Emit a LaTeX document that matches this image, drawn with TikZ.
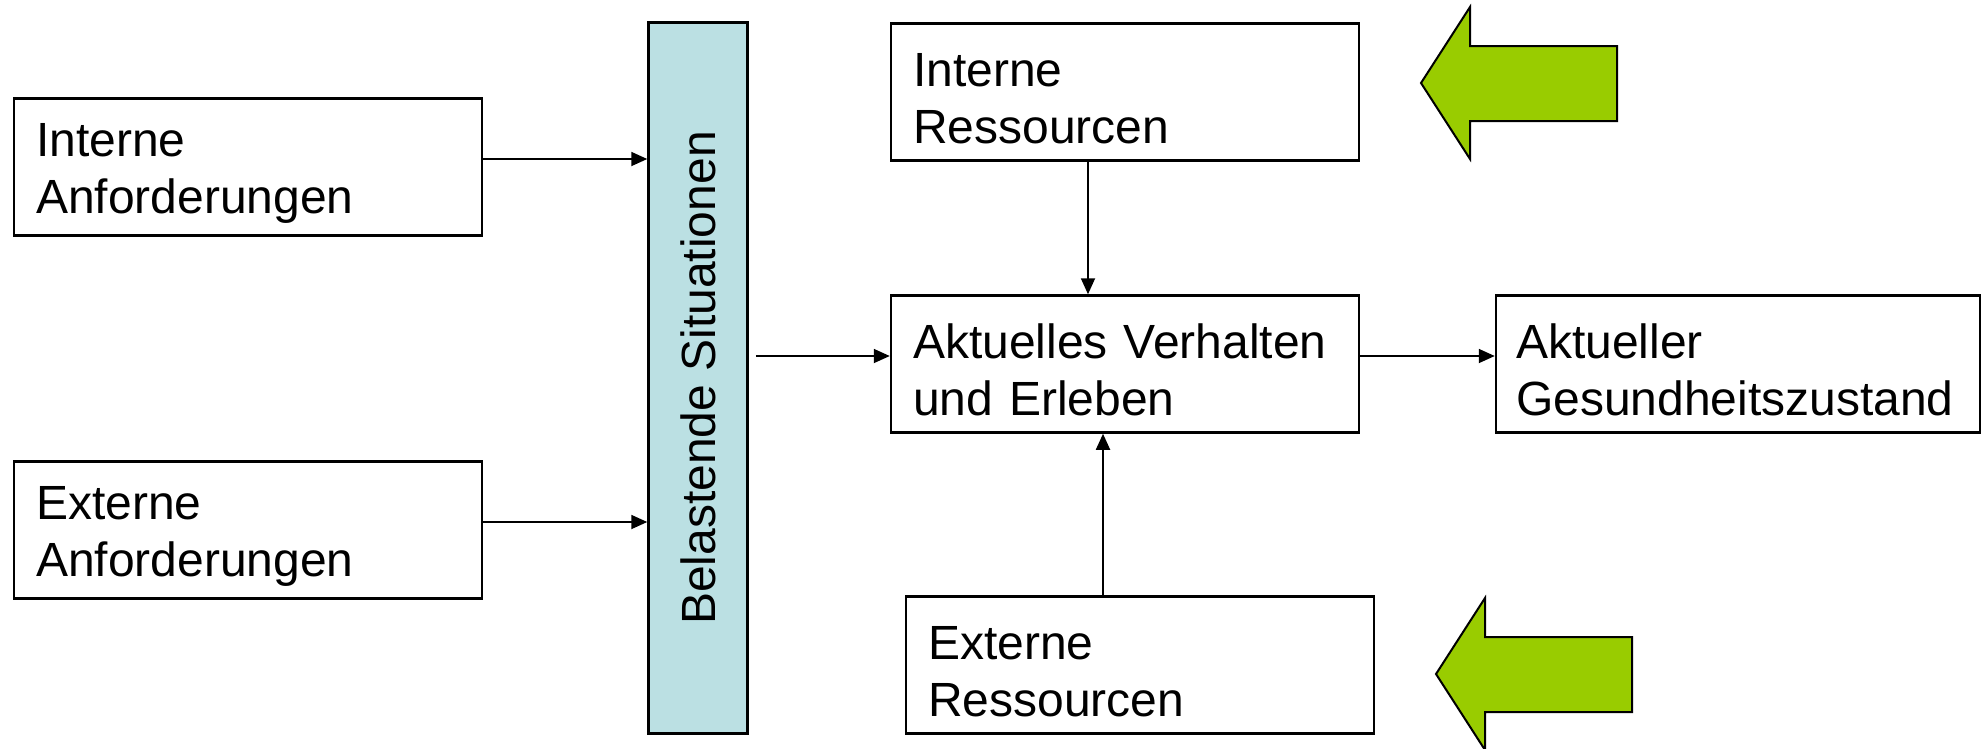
\documentclass[tikz,border=0pt]{standalone}
\usepackage{fontspec}
\setmainfont{Liberation Sans}
\usepackage{graphicx}
\usetikzlibrary{arrows.meta}
\definecolor{barblue}{RGB}{187,224,227}
\definecolor{leafgreen}{RGB}{153,204,0}

\begin{document}
\begin{tikzpicture}[x=1pt,y=-1pt,font=\fontsize{48}{57}\selectfont]
        \tikzstyle{box}=[draw,line width=2.5pt,minimum height=137pt,inner xsep=22pt,text width=424pt,align=left]
        \tikzstyle{link}=[line width=1.8pt,-{Triangle[length=16pt,width=14pt]}]
        \tikzstyle{hint}=[draw,line width=2pt,fill=leafgreen,line join=miter]

        \useasboundingbox (0,0) rectangle (1984,748);

        \foreach \name/\x/\y/\txt in {intAnf/248/167/Interne\\Anforderungen,
                                      extAnf/248/530/Externe\\Anforderungen,
                                      intRes/1125/92/Interne\\Ressourcen,
                                      akt/1125/364/Aktuelles Verhalten\\und Erleben,
                                      extRes/1140/665/Externe\\Ressourcen}
          \node[box] (\name) at (\x,\y) {\rule{0pt}{46pt}\txt};

        \node[box,text width=444pt,inner xsep=20pt] (ges) at (1738,364) {\rule{0pt}{46pt}Aktueller\\Gesundheitszustand};
        \node[draw,line width=2.5pt,fill=barblue,minimum width=99pt,minimum height=711pt] (bar) at (698,378)
          {\rotatebox{90}{Belastende Situationen}};

        \foreach \from in {intAnf,extAnf}
          { \draw[link] ([yshift=8pt]\from.east) -- ([yshift=8pt]\from.east -| bar.west); }
        \draw[link] ([xshift=7pt,yshift=8pt]bar.east |- akt.west) -- ([yshift=8pt]akt.west);
        \draw[link] ([yshift=8pt]akt.east) -- ([yshift=8pt]ges.west);
        \draw[link] ([xshift=-37pt]intRes.south) -- ([xshift=-37pt]intRes.south |- akt.north);
        \draw[link] ([xshift=-37pt]extRes.north) -- ([xshift=-37pt]extRes.north |- akt.south);

        \foreach \dx/\dy in {0/0, 15/591}
          \draw[hint,shift={(\dx,\dy)}] (1421,83) -- (1470,7) -- (1470,46) -- (1617,46)
            -- (1617,121) -- (1470,121) -- (1470,159) -- cycle;
      \end{tikzpicture}
\end{document}
